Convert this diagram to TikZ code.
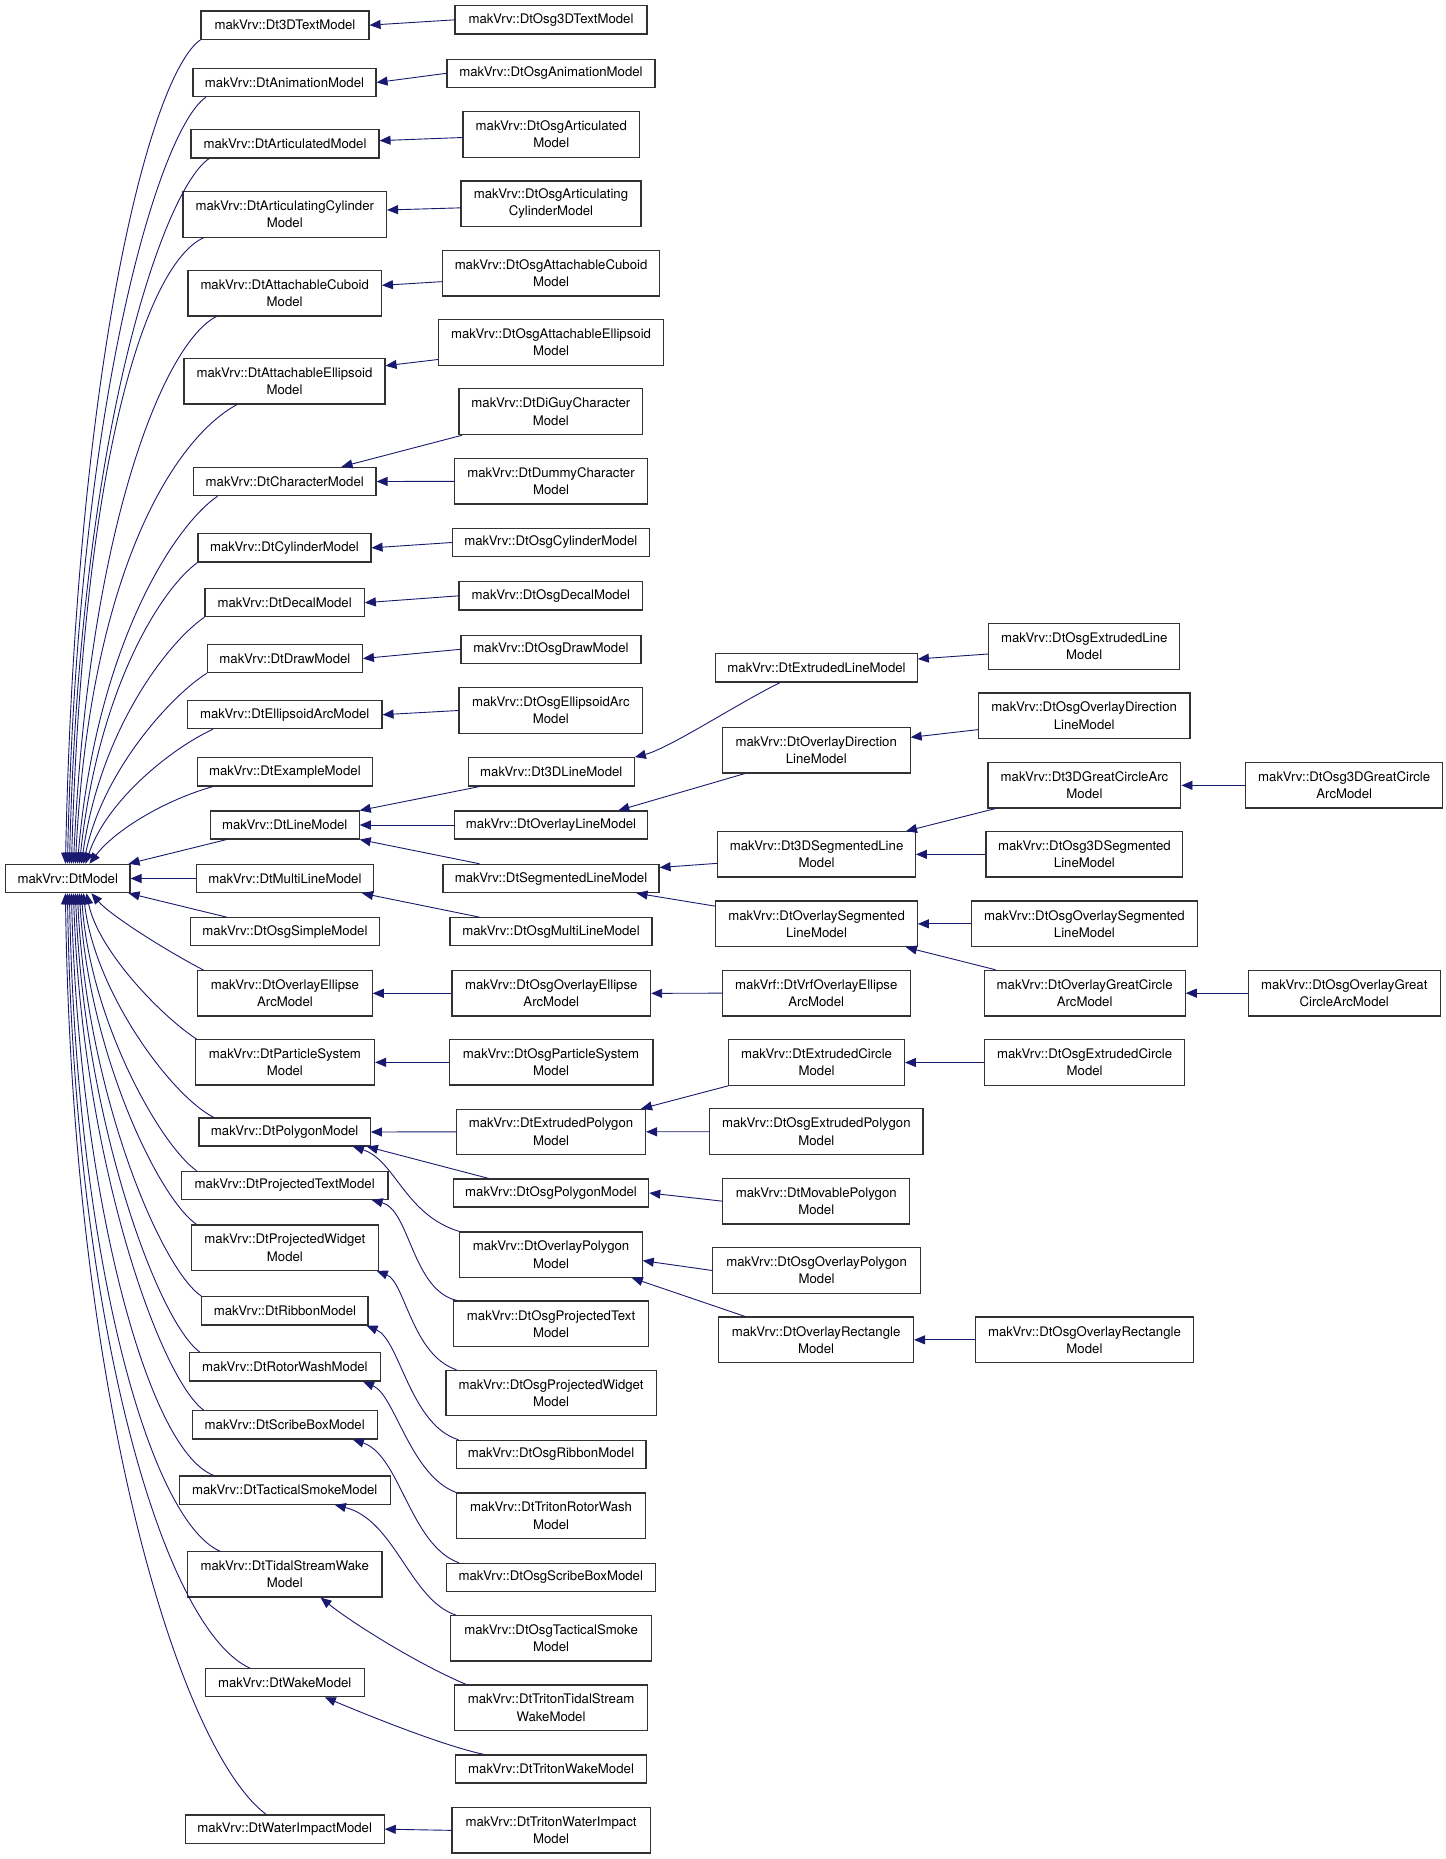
\documentclass[tikz,border=0pt]{standalone}
\usepackage{fontspec}
\setmainfont{TeX Gyre Heros}
\usetikzlibrary{arrows.meta}
\definecolor{navyc}{RGB}{25,25,112}
\definecolor{boxc}{RGB}{50,50,50}
\newcommand\cls[6]{%
  \node[cbox, minimum width={#4-#2}, minimum height={#5-#3}] (#1) at ({(#2+#4)/2},{(#3+#5)/2}) {#6};}
\begin{document}
\begin{tikzpicture}[x=1pt,y=-1pt,
  cbox/.style={draw=boxc, line width=1.1pt, fill=white, inner sep=2pt, align=center,
    font=\fontsize{13.2pt}{17.3pt}\selectfont},
  inh/.style={draw=navyc, line width=0.9pt, arrows={Triangle[length=11pt,width=9pt,fill=navyc]-}}]
\useasboundingbox[fill=white] (0,0) rectangle (1445,1859);
% base
\cls{m}{5.6}{864.3}{130}{892.7}{makVrv::DtModel}
% column 1
\cls{a1}{201}{11}{369}{39.3}{makVrv::Dt3DTextModel}
\cls{a2}{193}{68.3}{376}{96.7}{makVrv::DtAnimationModel}
\cls{a3}{191}{129.3}{379}{158}{makVrv::DtArticulatedModel}
\cls{a4}{183}{191.7}{386.5}{237.3}{makVrv::DtArticulatingCylinder\\Model}
\cls{a5}{188}{270.7}{381.4}{316}{makVrv::DtAttachableCuboid\\Model}
\cls{a6}{184}{358.7}{385}{404}{makVrv::DtAttachableEllipsoid\\Model}
\cls{a7}{193.5}{467.3}{376}{495.7}{makVrv::DtCharacterModel}
\cls{a8}{198}{533.7}{371}{562}{makVrv::DtCylinderModel}
\cls{a9}{205}{588.7}{364.3}{616.7}{makVrv::DtDecalModel}
\cls{a10}{207.4}{644.3}{362.4}{672.7}{makVrv::DtDrawModel}
\cls{a11}{187.5}{700.7}{382}{728.7}{makVrv::DtEllipsoidArcModel}
\cls{a12}{197.2}{757.7}{372.6}{786}{makVrv::DtExampleModel}
\cls{a13}{210.2}{811}{359.2}{839}{makVrv::DtLineModel}
\cls{a14}{196.3}{864.3}{373.5}{892.7}{makVrv::DtMultiLineModel}
\cls{a15}{190.3}{917.7}{379.6}{945.7}{makVrv::DtOsgSimpleModel}
\cls{a16}{197.7}{970.7}{372.2}{1016}{makVrv::DtOverlayEllipse\\ArcModel}
\cls{a17}{195.4}{1039.7}{374.5}{1085}{makVrv::DtParticleSystem\\Model}
\cls{a18}{199}{1118}{370.3}{1146}{makVrv::DtPolygonModel}
\cls{a19}{181.4}{1171.3}{388}{1199.3}{makVrv::DtProjectedTextModel}
\cls{a20}{191.6}{1225}{378.2}{1270.3}{makVrv::DtProjectedWidget\\Model}
\cls{a21}{201.9}{1296.7}{368}{1325}{makVrv::DtRibbonModel}
\cls{a22}{189.3}{1352.7}{380.5}{1381}{makVrv::DtRotorWashModel}
\cls{a23}{192.1}{1410.7}{377.3}{1439}{makVrv::DtScribeBoxModel}
\cls{a24}{179.1}{1476}{390.3}{1504.3}{makVrv::DtTacticalSmokeModel}
\cls{a25}{187.5}{1551.7}{382}{1597}{makVrv::DtTidalStreamWake\\Model}
\cls{a26}{205.1}{1668.7}{364.3}{1696.7}{makVrv::DtWakeModel}
\cls{a27}{185.2}{1815}{384.2}{1843.3}{makVrv::DtWaterImpactModel}
% column 2
\cls{b1}{455}{5.7}{647}{34}{makVrv::DtOsg3DTextModel}
\cls{b2}{447}{59.3}{655}{87.3}{makVrv::DtOsgAnimationModel}
\cls{b3}{463}{111.7}{639.5}{157.3}{makVrv::DtOsgArticulated\\Model}
\cls{b4}{461}{181}{641}{226.7}{makVrv::DtOsgArticulating\\CylinderModel}
\cls{b5}{442.7}{250.3}{659.4}{296}{makVrv::DtOsgAttachableCuboid\\Model}
\cls{b6}{438.5}{319.7}{663.6}{365.3}{makVrv::DtOsgAttachableEllipsoid\\Model}
\cls{b7}{459}{388.7}{642.7}{434.7}{makVrv::DtDiGuyCharacter\\Model}
\cls{b8}{454.8}{458.7}{647.3}{504}{makVrv::DtDummyCharacter\\Model}
\cls{b9}{452.4}{528.3}{649.2}{556.7}{makVrv::DtOsgCylinderModel}
\cls{b10}{459}{581.7}{642.7}{610}{makVrv::DtOsgDecalModel}
\cls{b11}{461}{635.3}{641}{663.3}{makVrv::DtOsgDrawModel}
\cls{b12}{459}{687.7}{642.7}{733.3}{makVrv::DtOsgEllipsoidArc\\Model}
\cls{b13}{468.2}{757.7}{634.3}{786}{makVrv::Dt3DLineModel}
\cls{b14}{454.3}{811}{647.8}{839}{makVrv::DtOverlayLineModel}
\cls{b15}{443}{864.3}{659}{892.7}{makVrv::DtSegmentedLineModel}
\cls{b16}{450}{917.7}{652}{945.7}{makVrv::DtOsgMultiLineModel}
\cls{b17}{452}{970.7}{650.6}{1016}{makVrv::DtOsgOverlayEllipse\\ArcModel}
\cls{b18}{449.2}{1039.7}{653}{1085}{makVrv::DtOsgParticleSystem\\Model}
\cls{b19}{456.6}{1109.3}{645.5}{1154.3}{makVrv::DtExtrudedPolygon\\Model}
\cls{b20}{453.4}{1179}{648.7}{1207}{makVrv::DtOsgPolygonModel}
\cls{b21}{459.9}{1232}{642.2}{1277.3}{makVrv::DtOverlayPolygon\\Model}
\cls{b22}{453.4}{1301}{648.7}{1346.7}{makVrv::DtOsgProjectedText\\Model}
\cls{b23}{446}{1370.3}{656.1}{1415.7}{makVrv::DtOsgProjectedWidget\\Model}
\cls{b24}{456.1}{1440.3}{646}{1468.3}{makVrv::DtOsgRibbonModel}
\cls{b25}{456.6}{1493}{645.5}{1538.7}{makVrv::DtTritonRotorWash\\Model}
\cls{b26}{446.4}{1563.3}{655.2}{1591.3}{makVrv::DtOsgScribeBoxModel}
\cls{b27}{450.6}{1615.7}{651.5}{1661}{makVrv::DtOsgTacticalSmoke\\Model}
\cls{b28}{454.8}{1685}{647.3}{1730.3}{makVrv::DtTritonTidalStream\\WakeModel}
\cls{b29}{455.7}{1755}{646.4}{1783}{makVrv::DtTritonWakeModel}
\cls{b30}{452}{1807.7}{650.1}{1853}{makVrv::DtTritonWaterImpact\\Model}
% column 3
\cls{c1}{715.8}{653.3}{917.3}{682}{makVrv::DtExtrudedLineModel}
\cls{c2}{722.4}{727.7}{910.1}{773}{makVrv::DtOverlayDirection\\LineModel}
\cls{c3}{717.7}{831.7}{915.4}{877}{makVrv::Dt3DSegmentedLine\\Model}
\cls{c4}{715.8}{901}{917.3}{946.7}{makVrv::DtOverlaySegmented\\LineModel}
\cls{c5}{722.4}{970.3}{910.1}{1016}{makVrf::DtVrfOverlayEllipse\\ArcModel}
\cls{c6}{728.7}{1039.7}{904.4}{1085.3}{makVrv::DtExtrudedCircle\\Model}
\cls{c7}{709.6}{1108.7}{923}{1154.7}{makVrv::DtOsgExtrudedPolygon\\Model}
\cls{c8}{722.9}{1178.3}{909.6}{1224}{makVrv::DtMovablePolygon\\Model}
\cls{c9}{712.9}{1247.7}{920.2}{1293.3}{makVrv::DtOsgOverlayPolygon\\Model}
\cls{c10}{718.6}{1317}{913.5}{1362.7}{makVrv::DtOverlayRectangle\\Model}
% column 4
\cls{d1}{988.9}{623.7}{1179.5}{669.3}{makVrv::DtOsgExtrudedLine\\Model}
\cls{d2}{978.4}{693}{1190}{738.3}{makVrv::DtOsgOverlayDirection\\LineModel}
\cls{d3}{988}{762.7}{1180.9}{808}{makVrv::Dt3DGreatCircleArc\\Model}
\cls{d4}{986}{831.7}{1182.8}{877}{makVrv::DtOsg3DSegmented\\LineModel}
\cls{d5}{971.7}{901}{1197.1}{946.7}{makVrv::DtOsgOverlaySegmented\\LineModel}
\cls{d6}{984.1}{970.3}{1185.2}{1016}{makVrv::DtOverlayGreatCircle\\ArcModel}
\cls{d7}{984.6}{1039.7}{1184.7}{1085.3}{makVrv::DtOsgExtrudedCircle\\Model}
\cls{d8}{975.1}{1317}{1193.8}{1362.7}{makVrv::DtOsgOverlayRectangle\\Model}
% column 5
\cls{e1}{1245.8}{762.7}{1442.6}{808}{makVrv::DtOsg3DGreatCircle\\ArcModel}
\cls{e2}{1248.2}{970.3}{1440.2}{1016}{makVrv::DtOsgOverlayGreat\\CircleArcModel}

% ---- edges into DtModel (upper fan)
\draw[inh] ([xshift=60.4pt]m.north west) .. controls (76,360) and (151,74) .. (a1.south west);
\draw[inh] ([xshift=62.4pt]m.north west) .. controls (78,388) and (161.5,126.7) .. ([xshift=13.5pt]a2.south west);
\draw[inh] ([xshift=64.4pt]m.north west) .. controls (80,426) and (164.7,188) .. ([xshift=18.7pt]a3.south west);
\draw[inh] ([xshift=66.4pt]m.north west) .. controls (84,440) and (150,262) .. ([xshift=21pt]a4.south west);
\draw[inh] ([xshift=68.4pt]m.north west) .. controls (89,524) and (165,342) .. ([xshift=29pt]a5.south west);
\draw[inh] ([xshift=70.4pt]m.north west) .. controls (90,570) and (175,438) .. ([xshift=53.6pt]a6.south west);
\draw[inh] ([xshift=72.4pt]m.north west) .. controls (96,645) and (175,525) .. ([xshift=24.6pt]a7.south west);
\draw[inh] ([xshift=74.4pt]m.north west) .. controls (98,690) and (160,590) .. (a8.south west);
\draw[inh] ([xshift=76.4pt]m.north west) .. controls (100,730) and (168,642) .. (a9.south west);
\draw[inh] ([xshift=78.4pt]m.north west) .. controls (103,770) and (172,695) .. (a10.south west);
\draw[inh] ([xshift=80.4pt]m.north west) .. controls (107,800) and (172,748) .. ([xshift=26pt]a11.south west);
\draw[inh] ([xshift=84.4pt]m.north west) .. controls (115,830) and (165,800) .. ([xshift=16.3pt]a12.south west);
% straight ones
\draw[inh] ([xshift=-2pt]m.north east) -- ([xshift=17pt]a13.south west);
\draw[inh] (m.east) -- (a14.west);
\draw[inh] ([xshift=-2pt]m.south east) -- ([xshift=37pt]a15.north west);
% lower fan
\draw[inh] ([xshift=86.4pt]m.south west) .. controls (110,915) and (165,950) .. ([xshift=6.5pt]a16.north west);
\draw[inh] ([xshift=81.4pt]m.south west) .. controls (98,950) and (160,1015) .. ([xshift=1.8pt]a17.north west);
\draw[inh] ([xshift=78.4pt]m.south west) .. controls (94,990) and (170,1095) .. ([xshift=15.4pt]a18.north west);
\draw[inh] ([xshift=76.4pt]m.south west) .. controls (90,1020) and (160,1145) .. ([xshift=15.8pt]a19.north west);
\draw[inh] ([xshift=74.4pt]m.south west) .. controls (88,1050) and (158,1198) .. ([xshift=5.6pt]a20.north west);
\draw[inh] ([xshift=72.4pt]m.south west) .. controls (86,1090) and (160,1268) .. (a21.north west);
\draw[inh] ([xshift=70.4pt]m.south west) .. controls (84,1120) and (158,1322) .. ([xshift=11.2pt]a22.north west);
\draw[inh] ([xshift=68.4pt]m.south west) .. controls (82,1160) and (160,1378) .. ([xshift=12.1pt]a23.north west);
\draw[inh] ([xshift=66.4pt]m.south west) .. controls (78,1180) and (145,1450) .. ([xshift=35.3pt]a24.north west);
\draw[inh] ([xshift=64.4pt]m.south west) .. controls (76,1260) and (150,1520) .. ([xshift=32.9pt]a25.north west);
\draw[inh] ([xshift=62.4pt]m.south west) .. controls (74,1330) and (165,1630) .. ([xshift=45.5pt]a26.north west);
\draw[inh] ([xshift=60.4pt]m.south west) .. controls (72,1400) and (180,1750) .. ([xshift=81.6pt]a27.north west);

% ---- column 1 <- column 2
\draw[inh] (a1.east) -- (b1.west);
\draw[inh] (a2.east) -- (b2.west);
\draw[inh] ([yshift=3pt]a3.east) -- ([yshift=-3pt]b3.west);
\draw[inh] ([yshift=4.5pt]a4.east) -- ([yshift=-4pt]b4.west);
\draw[inh] ([yshift=8pt]a5.east) -- ([yshift=-8.5pt]b5.west);
\draw[inh] ([yshift=15.6pt]a6.east) -- ([yshift=-17pt]b6.west);
\draw[inh] ([xshift=-35pt]a7.north east) -- ([xshift=3.6pt]b7.south west);
\draw[inh] (a7.east) -- (b8.west);
\draw[inh] (a8.east) -- (b9.west);
\draw[inh] (a9.east) -- (b10.west);
\draw[inh] (a10.east) -- (b11.west);
\draw[inh] (a11.east) -- (b12.west);
\draw[inh] (a13.north east) -- ([xshift=12pt]b13.south west);
\draw[inh] (a13.east) -- (b14.west);
\draw[inh] (a13.south east) -- ([xshift=37pt]b15.north west);
\draw[inh] ([xshift=-12pt]a14.south east) -- ([xshift=30pt]b16.north west);
\draw[inh] (a16.east) -- (b17.west);
\draw[inh] (a17.east) -- (b18.west);
\draw[inh] (a18.east) -- (b19.west);
\draw[inh] ([xshift=-4pt]a18.south east) -- ([xshift=36pt]b20.north west);
\draw[inh] ([xshift=-18pt]a18.south east) .. controls (395,1160) and (405,1215) .. (b21.north west);
\draw[inh] ([xshift=-17pt]a19.south east) .. controls (410,1210) and (412,1290) .. ([xshift=4pt]b22.north west);
\draw[inh] ([xshift=-2pt]a20.south east) .. controls (405,1282) and (412,1355) .. ([xshift=11pt]b23.north west);
\draw[inh] ([xshift=-2pt]a21.south east) .. controls (400,1340) and (410,1425) .. ([xshift=3pt]b24.north west);
\draw[inh] ([xshift=-18pt]a22.south east) .. controls (395,1395) and (410,1475) .. (b25.north west);
\draw[inh] ([xshift=-25pt]a23.south east) .. controls (400,1455) and (410,1545) .. ([xshift=13pt]b26.north west);
\draw[inh] ([xshift=-56pt]a24.south east) .. controls (395,1520) and (410,1600) .. ([xshift=6pt]b27.north west);
\draw[inh] ([xshift=-62pt]a25.south east) .. controls (355,1625) and (420,1665) .. ([xshift=12pt]b28.north west);
\draw[inh] ([xshift=-40pt]a26.south east) .. controls (360,1712) and (440,1745) .. ([xshift=29pt]b29.north west);
\draw[inh] (a27.east) -- (b30.west);

% ---- column 2 <- column 3
\draw[inh] (b13.north east) .. controls (670,748) and (740,702) .. ([xshift=65pt]c1.south west);
\draw[inh] ([xshift=-30pt]b14.north east) -- ([xshift=23pt]c2.south west);
\draw[inh] ([yshift=11pt]b15.east) -- ([yshift=-9pt]c3.west);
\draw[inh] ([xshift=-23pt]b15.south east) -- ([yshift=-5.7pt]c4.north west);
\draw[inh] (b17.east) -- (c5.west);
\draw[inh] ([xshift=-5pt]b19.north east) -- (c6.south west);
\draw[inh] (b19.east) -- (c7.west);
\draw[inh] (b20.east) -- (c8.west);
\draw[inh] ([yshift=-6pt]b21.east) -- (c9.west);
\draw[inh] ([xshift=-11pt]b21.south east) -- ([xshift=27pt]c10.north west);

% ---- column 3 <- column 4
\draw[inh] ([yshift=8.7pt]c1.east) -- ([yshift=-7.5pt]d1.west);
\draw[inh] ([yshift=13pt]c2.east) -- ([yshift=-14pt]d2.west);
\draw[inh] ([xshift=-10pt]c3.north east) -- ([xshift=8pt]d3.south west);
\draw[inh] (c3.east) -- (d4.west);
\draw[inh] (c4.east) -- (d5.west);
\draw[inh] ([xshift=-12pt]c4.south east) -- ([xshift=12pt]d6.north west);
\draw[inh] (c6.east) -- (d7.west);
\draw[inh] (c10.east) -- (d8.west);

% ---- column 4 <- column 5
\draw[inh] (d3.east) -- (e1.west);
\draw[inh] (d6.east) -- (e2.west);
\end{tikzpicture}
\end{document}
